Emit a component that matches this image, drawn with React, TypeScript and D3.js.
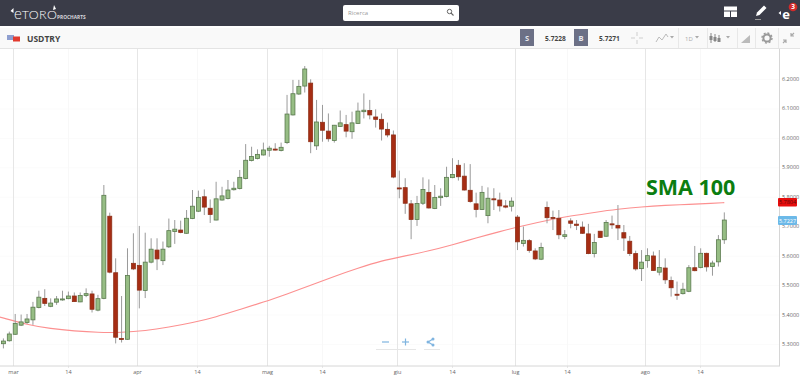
import React, { useMemo } from "react";
import * as d3 from "d3";

const opens = [5.301,5.311,5.333,5.364,5.373,5.382,5.424,5.455,5.428,5.442,5.450,5.454,5.463,5.443,5.465,5.470,5.415,5.455,5.734,5.542,5.319,5.316,5.574,5.567,5.482,5.578,5.619,5.583,5.630,5.682,5.687,5.676,5.726,5.751,
5.800,5.761,5.721,5.789,5.794,5.824,5.828,5.862,5.923,5.930,5.942,5.958,5.962,5.957,5.984,6.078,6.149,6.176,6.186,5.973,6.053,6.023,5.991,6.039,6.045,6.021,6.049,6.089,6.093,6.071,6.063,6.029,6.010,
5.830,5.831,5.776,5.723,5.778,5.815,5.760,5.797,5.801,5.865,5.907,5.870,5.822,5.776,5.757,5.736,5.793,5.789,5.769,5.768,5.731,5.641,5.651,5.616,5.588,5.764,5.730,5.727,5.665,5.718,5.707,
5.697,5.674,5.607,5.683,5.666,5.708,5.703,5.678,5.649,5.607,5.556,5.583,5.599,5.544,5.558,5.516,5.469,5.471,5.479,5.559,5.560,5.608,5.563,5.579,5.654];
const highs = [5.319,5.342,5.402,5.400,5.402,5.443,5.481,5.486,5.455,5.463,5.481,5.478,5.475,5.475,5.489,5.481,5.467,5.840,5.746,5.591,5.463,5.625,5.676,5.701,5.678,5.659,5.659,5.648,5.726,5.721,5.719,5.755,5.823,5.821,
5.825,5.791,5.851,5.834,5.857,5.851,5.891,5.979,5.970,5.961,5.984,5.973,5.982,5.984,6.146,6.197,6.197,6.244,6.199,6.129,6.112,6.083,6.044,6.093,6.078,6.089,6.120,6.151,6.129,6.097,6.083,6.052,6.025,
5.889,5.863,5.789,5.803,5.866,5.859,5.840,5.829,5.902,5.931,5.925,5.914,5.911,5.814,5.837,5.832,5.829,5.814,5.789,5.798,5.738,5.699,5.656,5.625,5.644,5.784,5.753,5.755,5.687,5.727,5.721,
5.716,5.708,5.674,5.684,5.721,5.736,5.772,5.704,5.667,5.617,5.619,5.625,5.614,5.619,5.591,5.529,5.512,5.508,5.568,5.633,5.625,5.610,5.583,5.670,5.747];
const lows = [5.285,5.308,5.331,5.361,5.368,5.365,5.421,5.429,5.425,5.433,5.447,5.452,5.443,5.442,5.459,5.407,5.411,5.452,5.540,5.302,5.305,5.314,5.551,5.421,5.456,5.574,5.551,5.568,5.626,5.640,5.676,5.674,5.724,5.748,
5.738,5.711,5.720,5.787,5.791,5.821,5.825,5.859,5.920,5.927,5.940,5.936,5.957,5.954,5.979,6.076,6.146,6.154,5.948,5.959,5.987,5.987,5.984,6.037,6.002,5.997,6.047,6.066,6.063,6.035,5.991,6.002,5.863,
5.795,5.742,5.656,5.701,5.772,5.760,5.758,5.769,5.798,5.863,5.855,5.821,5.780,5.730,5.755,5.710,5.755,5.750,5.761,5.750,5.619,5.631,5.610,5.585,5.585,5.710,5.687,5.656,5.656,5.693,5.687,
5.674,5.605,5.594,5.660,5.664,5.691,5.653,5.616,5.599,5.549,5.514,5.559,5.548,5.533,5.504,5.461,5.450,5.468,5.476,5.547,5.557,5.546,5.532,5.563,5.640];
const closes = [5.310,5.334,5.370,5.375,5.385,5.425,5.459,5.438,5.439,5.453,5.453,5.463,5.444,5.465,5.471,5.418,5.454,5.805,5.544,5.323,5.315,5.533,5.555,5.483,5.578,5.622,5.589,5.622,5.685,5.690,5.679,5.727,5.768,5.798,
5.765,5.740,5.793,5.803,5.823,5.829,5.866,5.924,5.937,5.944,5.959,5.965,5.959,5.968,6.081,6.150,6.175,6.234,5.987,6.054,6.026,5.997,6.043,6.051,6.023,6.051,6.091,6.094,6.078,6.063,6.030,6.010,5.867,
5.827,5.778,5.723,5.777,5.825,5.762,5.798,5.802,5.866,5.876,5.868,5.823,5.784,5.757,5.815,5.795,5.790,5.769,5.765,5.785,5.647,5.652,5.618,5.589,5.628,5.729,5.727,5.671,5.671,5.710,5.703,
5.676,5.607,5.645,5.662,5.713,5.705,5.694,5.660,5.607,5.555,5.578,5.600,5.550,5.560,5.518,5.491,5.467,5.486,5.559,5.549,5.608,5.562,5.575,5.654,5.721];

const smaIndex = [-1,0,4,8,12,16,20,24,28,32,36,40,44,48,52,56,60,64,68,72,76,80,84,88,92,96,100,104,108,112,116,120,122];
const smaValues = [5.394,5.388,5.366,5.352,5.344,5.339,5.339,5.345,5.357,5.372,5.392,5.417,5.442,5.470,5.499,5.530,5.558,5.583,5.599,5.616,5.637,5.660,5.682,5.702,5.720,5.735,5.747,5.758,5.766,5.771,5.774,5.778,5.780];

const priceTicks = [6.2,6.1,6.0,5.9,5.8,5.7,5.6,5.5,5.4,5.3];
const timeTickLabels = ["mar","14","apr","14","mag","14","giu","14","lug","14","ago","14"];
const timeTickIndex = [1.57,10.9,22.55,32.7,44.55,53.9,66.55,76,86.55,95.4,108.55,117.9];
const monthLabels = ["mar","apr","mag","giu","lug","ago"];

const UI = "'Open Sans', sans-serif";

export default function App() {
  const x = useMemo(() => d3.scaleLinear().domain([0, 122]).range([3.4, 724.3]), []);
  const y = useMemo(() => d3.scaleLinear().domain([6.2, 5.3]).range([79, 344]), []);
  const smaLine = d3.line<number>()
    .x((_, i) => x(smaIndex[i]))
    .y((d) => y(d))
    .curve(d3.curveBasis);

  return (
    <svg width={800} height={377} style={{ position: "absolute", left: 0, top: 0, background: "#fff" }} fontFamily={UI}>
      <g>
        {priceTicks.map((p) => (
          <line key={p} x1={0} x2={779} y1={y(p) + 0.5} y2={y(p) + 0.5} stroke="#fbfbfb" />
        ))}
        {timeTickIndex.map((t, i) => {
          const major = monthLabels.includes(timeTickLabels[i]);
          const px = Math.round(x(t)) + 0.5;
          return (
            <g key={i}>
              <line x1={px} x2={px} y1={48} y2={366} stroke={major ? "#e6e6e6" : "#f8f8f8"} />
              {!major && <line x1={px} x2={px} y1={366} y2={368} stroke="#e8e8e8" />}
              <text x={px} y={374} textAnchor="middle" fontSize={5.5} fill="#666">{timeTickLabels[i]}</text>
            </g>
          );
        })}
        <path d={smaLine(smaValues) ?? ""} fill="none" stroke="#fc9090" strokeWidth={1.1} />
        {opens.map((o, i) => {
          const c = closes[i];
          const up = c >= o;
          const cx = x(i);
          const top = y(Math.max(o, c));
          const bottom = y(Math.min(o, c));
          const h = Math.max(1, bottom - top);
          return (
            <g key={i}>
              <line x1={cx} x2={cx} y1={y(highs[i])} y2={y(lows[i])} stroke="#9a9a9a" strokeWidth={1} />
              <rect
                x={cx - 2}
                y={top}
                width={4}
                height={h}
                fill={up ? "#96bd84" : "#a62d14"}
                stroke={up ? "#5a7a4e" : "#8f3018"}
                strokeWidth={0.8}
              />
            </g>
          );
        })}
      </g>

      <line x1={779.5} x2={779.5} y1={48} y2={366} stroke="#d6d6d6" />
      <line x1={0} x2={780} y1={366} y2={366} stroke="#d6d6d6" />
      {priceTicks.map((p) => (
        <text key={p} x={782} y={y(p) + 2} fontSize={5.5} fill="#666">{p.toFixed(4)}</text>
      ))}
      <rect x={778} y={198} width={19} height={8.5} fill="#e60d0d" rx={1} />
      <text x={787.5} y={204.3} textAnchor="middle" fontSize={5.5} fill="#5a0a0a">5.7804</text>
      <rect x={778} y={216} width={19} height={9} fill="#6cb9e8" rx={1} />
      <text x={787.5} y={222.5} textAnchor="middle" fontSize={5.5} fill="#fff">5.7227</text>

      <text x={646} y={195} fontWeight={700} fontSize={21.5} fill="#0b7d10">SMA 100</text>

      <g stroke="#7fb4e0" fill="none" strokeWidth={1.2}>
        <line x1={382} x2={389} y1={342} y2={342} />
        <line x1={402} x2={409} y1={342} y2={342} />
        <line x1={405.5} x2={405.5} y1={338.5} y2={345.5} />
        <line x1={428} x2={433} y1={342} y2={339} />
        <line x1={428} x2={433} y1={342} y2={345} />
      </g>
      <g fill="#7fb4e0">
        <circle cx={428} cy={342} r={1.5} />
        <circle cx={433} cy={339} r={1.5} />
        <circle cx={433} cy={345} r={1.5} />
      </g>
      <line x1={376} x2={416} y1={349.5} y2={349.5} stroke="#e6e6e6" />
      <line x1={424} x2={440} y1={349.5} y2={349.5} stroke="#e6e6e6" />

      <rect x={0} y={0} width={800} height={26} fill="#3a3c48" />
      <rect x={0} y={26} width={800} height={2} fill="#fff" />
      <rect x={0} y={28} width={800} height={20} fill="#f9f9f9" />
      <line x1={0} x2={800} y1={48.5} y2={48.5} stroke="#e4e4e4" />

      <path d="M10.5 11 l3 -3 l0 5 z M56 9 l-2 -4 l-1 5 z" fill="#fff" />
      <text x={14} y={18.5} fontFamily="Lato, sans-serif" fill="#fff" fontWeight={300}>
        <tspan fontSize={15}>e</tspan>
        <tspan fontSize={12.5} letterSpacing={0.3}>TORO</tspan>
      </text>
      <text x={57} y={19} fontSize={4.8} fontWeight={700} fill="#d8d8dc">PROCHARTS</text>

      <rect x={343} y={5} width={116} height={16} rx={2} fill="#fff" />
      <text x={348} y={15} fontSize={6} fill="#999">Ricerca</text>
      <circle cx={449.5} cy={11.5} r={2.2} fill="none" stroke="#666" strokeWidth={1} />
      <line x1={451} x2={453.5} y1={13} y2={15.5} stroke="#666" strokeWidth={1.1} />

      <rect x={724} y={6.5} width={13} height={10.5} fill="#fff" />
      <line x1={724} x2={737} y1={11} y2={11} stroke="#3a3c48" />
      <line x1={730.5} x2={730.5} y1={11} y2={17} stroke="#3a3c48" />
      <path d="M756 16 l1 -3.5 l7 -7 l2.5 2.5 l-7 7 z" fill="#fff" />
      <line x1={755} x2={761} y1={19.5} y2={19.5} stroke="#999" />
      <text x={786} y={19} fontSize={13} fontWeight={700} fill="#fff" textAnchor="middle">e</text>
      <path d="M781 11 l-2.5 2 l2.5 2 z" fill="#fff" />
      <circle cx={793} cy={7} r={4.3} fill="#d32a2a" />
      <text x={793} y={9.3} fontSize={6.5} fontWeight={700} fill="#fff" textAnchor="middle">3</text>

      <rect x={7} y={35} width={7} height={5} fill="#8f9fd0" />
      <rect x={13} y={36.5} width={7} height={5} fill="#e23a2e" />
      <text x={27} y={41.5} fontSize={8.5} fontWeight={700} fill="#444">USDTRY</text>
      <rect x={520} y={29} width={14} height={17} fill="#6c7086" />
      <text x={527} y={41} textAnchor="middle" fontSize={7.5} fontWeight={700} fill="#e8e8ee">S</text>
      <text x={545} y={40.5} fontSize={6.6} fontWeight={700} fill="#444">5.7228</text>
      <rect x={574} y={29} width={14} height={17} fill="#6c7086" />
      <text x={581} y={41} textAnchor="middle" fontSize={7.5} fontWeight={700} fill="#e8e8ee">B</text>
      <text x={599} y={40.5} fontSize={6.6} fontWeight={700} fill="#444">5.7271</text>
      <g stroke="#cfcfcf">
        <line x1={631} x2={635} y1={38} y2={38} />
        <line x1={639} x2={643} y1={38} y2={38} />
        <line x1={637} x2={637} y1={32} y2={36} />
        <line x1={637} x2={637} y1={40} y2={44} />
      </g>
      <g stroke="#e8e8e8">
        {[678, 707, 737, 755, 778].map((v) => <line key={v} x1={v + 0.5} x2={v + 0.5} y1={28} y2={48} />)}
      </g>
      <path d="M656 42 l3 -5 l3 3 l4 -6 l2 3" fill="none" stroke="#bbb" />
      <path d="M670 36 h4 l-2 2.5 z M695 36 h4 l-2 2.5 z M726 36 h4 l-2 2.5 z" fill="#aaa" />
      <text x={685} y={41} fontSize={6} fill="#aaa">1D</text>
      <g stroke="#888" strokeWidth={1}>
        {[711, 715, 719].map((v, i) => <line key={v} x1={v} x2={v} y1={33 + i} y2={43 - i} />)}
      </g>
      <g fill="#888">
        {[711, 715, 719].map((v, i) => <rect key={v} x={v - 1.5} y={36 + i} width={3} height={4} />)}
      </g>
      <path d="M741 43 l9 -8 v8 z" fill="#bbb" />
      <circle cx={767} cy={38} r={3.6} fill="none" stroke="#999" strokeWidth={2} />
      <circle cx={767} cy={38} r={5} fill="none" stroke="#999" strokeWidth={1.4} strokeDasharray="2 1.9" />
      <path d="M784 43 l3 -3 M787 43 v-3 h-3 M795 33 l-3 3 M792 33 v3 h3" fill="none" stroke="#aaa" strokeWidth={1.2} transform="translate(-1,0)" />
    </svg>
  );
}
